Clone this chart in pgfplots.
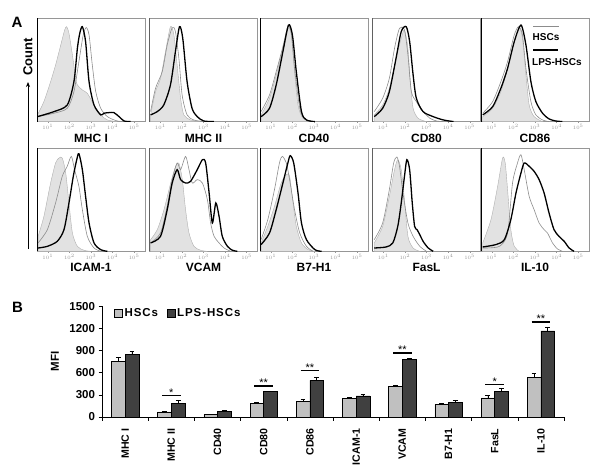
\documentclass[border=0pt]{standalone}
\usepackage{pgfplots}
\pgfplotsset{compat=1.18}
\usetikzlibrary{arrows.meta}
\usepackage{fontspec}
\setmainfont{Liberation Sans}
\newfontfamily\spaced[LetterSpace=8]{Liberation Sans}
\definecolor{isofill}{RGB}{226,226,226}
\definecolor{isoline}{RGB}{175,175,175}
\definecolor{hscline}{RGB}{140,140,140}
\definecolor{hscbar}{RGB}{192,192,192}
\definecolor{lpsbar}{RGB}{64,64,64}
\definecolor{frame}{RGB}{150,150,150}
\pgfplotsset{
  hist/.style={
    scale only axis, width=108pt, height=103.3pt, anchor=north west,
    xmin=0.5, xmax=5.5, ymin=0, ymax=100,
    ytick=\empty, xtick={1,2,3,4,5},
    xticklabels={$10^{1}$,$10^{2}$,$10^{3}$,$10^{4}$,$10^{5}$},
    tick align=outside, xtick pos=bottom,
    major tick length=1.5pt,
    every tick/.style={frame, line width=0.4pt},
    axis line style={frame, line width=0.6pt},
    xticklabel style={font=\fontsize{3.5}{3.5}\selectfont, text=frame, inner sep=1pt},
    xlabel style={font=\bfseries\fontsize{12}{12}\selectfont, at={(axis description cs:0.5,0)}, anchor=center, yshift=-16.5pt},
  },
  iso/.style={fill=isofill, draw=isoline, line width=0.4pt, smooth, tension=0.45},
  hsc/.style={draw=hscline, line width=0.6pt, smooth, tension=0.45},
  lps/.style={draw=black, line width=1.3pt, smooth, tension=0.45},
}
\newcommand{\leftedge}{\draw[black, line width=1.3pt] (rel axis cs:0,0) -- (rel axis cs:0,1);}
\begin{document}
\begin{tikzpicture}
\useasboundingbox (0pt,0pt) rectangle (601pt,-474pt);
% ---------------- Panel A ----------------
\node[font=\bfseries\fontsize{15}{15}\selectfont] at (17pt,-22pt) {A};
\node[rotate=90, font=\bfseries\fontsize{13}{13}\selectfont] at (28pt,-57pt) {Count};
\draw[-{Stealth[length=5pt,width=4pt]}, line width=0.8pt] (28pt,-249pt) -- (28pt,-82pt);

% MHC I
\begin{axis}[hist, at={(37pt,-18.3pt)}, xlabel={MHC I}]
\addplot[iso] coordinates {(0.52,6.5)(0.82,19.4)(1.13,38.7)(1.36,54.8)(1.60,74.2)(1.78,88.7)(1.87,91.9)(1.98,85.5)(2.14,64.5)(2.29,41.9)(2.37,35.5)(2.60,30.6)(2.83,27.4)(3.14,16.1)(3.45,6.5)(3.76,1.6)(4.22,0)} \closedcycle;
\addplot[hsc] coordinates {(0.52,4.8)(1.29,8.1)(1.90,12.9)(2.21,29)(2.44,58.1)(2.64,83.9)(2.78,91)(2.91,83.9)(3.06,54.8)(3.22,29)(3.45,12.9)(3.76,4.8)(4.22,0.6)(4.68,0)};
\addplot[lps] coordinates {(0.52,4.8)(1.29,9.7)(1.90,16.1)(2.21,38.7)(2.37,71)(2.48,85.5)(2.60,91.9)(2.75,77.4)(2.91,38.7)(3.14,16.1)(3.45,6.5)(3.60,8.1)(3.83,8.7)(4.06,8.7)(4.30,4.8)(4.53,0.6)(4.84,0)};
\leftedge
\end{axis}
% MHC II
\begin{axis}[hist, at={(149.5pt,-18.3pt)}, xlabel={MHC II}]
\addplot[iso] coordinates {(0.55,6.5)(0.78,29)(1.01,41.9)(1.24,67.7)(1.47,91.9)(1.63,83.9)(1.78,54.8)(1.94,22.6)(2.09,6.5)(2.40,1.6)(2.86,0)} \closedcycle;
\addplot[hsc] coordinates {(0.55,9.7)(0.78,32.3)(1.09,48.4)(1.32,74.2)(1.55,91)(1.70,87.1)(1.86,61.3)(2.01,25.8)(2.24,6.5)(2.55,1.6)(3.01,0)};
\addplot[lps] coordinates {(0.55,6.5)(0.86,9.7)(1.16,16.1)(1.47,35.5)(1.70,67.7)(1.89,91.9)(2.04,80.6)(2.24,38.7)(2.47,12.9)(2.71,4.8)(3.01,0.6)(3.48,0)};
\leftedge
\end{axis}
% CD40
\begin{axis}[hist, at={(260pt,-18.3pt)}, xlabel={CD40}]
\addplot[iso] coordinates {(0.55,6.5)(0.94,22.6)(1.25,45.2)(1.56,71)(1.79,90.3)(1.95,83.9)(2.10,48.4)(2.26,16.1)(2.49,3.2)(2.96,0)} \closedcycle;
\addplot[hsc] coordinates {(0.55,9.7)(0.94,25.8)(1.25,48.4)(1.56,72.6)(1.79,91.9)(1.95,85.5)(2.10,51.6)(2.34,12.9)(2.57,2.6)(2.96,0)};
\addplot[lps] coordinates {(0.55,4.8)(0.94,12.9)(1.25,35.5)(1.56,67.7)(1.82,93.5)(2.00,83.9)(2.18,48.4)(2.42,9.7)(2.65,1.6)(3.04,0)};
\leftedge
\end{axis}
% CD80
\begin{axis}[hist, at={(372.5pt,-18.3pt)}, xlabel={CD80}]
\addplot[iso] coordinates {(0.58,6.5)(0.97,16.1)(1.28,32.3)(1.59,61.3)(1.83,80.6)(1.98,88.7)(2.14,71)(2.25,38.7)(2.38,12.9)(2.61,3.2)(3.0,0)} \closedcycle;
\addplot[hsc] coordinates {(0.58,9.7)(0.97,22.6)(1.28,41.9)(1.52,71)(1.75,90.3)(1.98,88.7)(2.14,64.5)(2.30,29)(2.53,19.4)(2.77,11.3)(3.16,3.2)(3.47,0.6)(3.78,0)};
\addplot[lps] coordinates {(0.58,4.8)(0.97,12.9)(1.28,29)(1.59,61.3)(1.83,87.1)(2.06,91.9)(2.22,77.4)(2.38,45.2)(2.53,22.6)(2.84,9.7)(3.31,4.8)(3.78,1.6)(4.25,0)};
\leftedge
\end{axis}
% CD86
\begin{axis}[hist, at={(481pt,-18.3pt)}, xlabel={CD86}]
\addplot[iso] coordinates {(0.58,4.8)(1.04,12.9)(1.42,29)(1.73,51.6)(2.04,77.4)(2.27,90.3)(2.42,80.6)(2.58,45.2)(2.73,16.1)(2.96,4.8)(3.35,0)} \closedcycle;
\addplot[hsc] coordinates {(0.58,8.1)(1.04,19.4)(1.42,38.7)(1.73,58.1)(2.04,83.9)(2.24,91.9)(2.42,83.9)(2.58,51.6)(2.81,19.4)(3.04,6.5)(3.35,1.6)(3.65,0)};
\addplot[lps] coordinates {(0.58,6.5)(1.04,14.5)(1.42,32.3)(1.73,51.6)(2.04,77.4)(2.35,93.5)(2.58,74.2)(2.81,38.7)(3.04,19.4)(3.35,8.1)(3.65,2.6)(3.96,0.6)(4.27,0)};
\leftedge
\end{axis}
\draw[hscline, line width=0.8pt] (533pt,-26.7pt) -- (559pt,-26.7pt);
\node[anchor=west, inner sep=0pt, font=\bfseries\fontsize{10}{10}\selectfont] at (532.5pt,-37pt) {HSCs};
\draw[black, line width=1.3pt] (533pt,-50pt) -- (558pt,-50pt);
\node[anchor=west, inner sep=0pt, font=\bfseries\fontsize{10}{10}\selectfont] at (532pt,-62.5pt) {LPS-HSCs};

% ICAM-1
\begin{axis}[hist, at={(37pt,-148pt)}, xlabel={ICAM-1}]
\addplot[iso] coordinates {(0.55,14.5)(0.82,33.9)(1.13,66.1)(1.36,85.5)(1.52,90.3)(1.67,90.3)(1.83,75.8)(1.98,46.8)(2.14,17.7)(2.37,4.8)(2.68,1)(2.98,0)} \closedcycle;
\addplot[hsc] coordinates {(0.55,8.1)(0.98,21)(1.36,46.8)(1.67,72.6)(1.90,82.3)(2.09,91.9)(2.24,79)(2.44,62.9)(2.60,40.3)(2.83,14.5)(3.14,3.2)(3.45,0)};
\addplot[lps] coordinates {(0.55,3.2)(0.98,4.8)(1.44,9.7)(1.75,21)(1.98,46.8)(2.18,72.6)(2.34,88.7)(2.44,94.5)(2.60,79)(2.75,53.2)(2.91,27.4)(3.14,8.1)(3.45,1.6)(3.76,0)};
\leftedge
\end{axis}
% VCAM
\begin{axis}[hist, at={(149.5pt,-148pt)}, xlabel={VCAM}]
\addplot[iso] coordinates {(0.55,11.3)(0.86,21)(1.17,40.3)(1.48,66.1)(1.71,82.3)(1.86,85.5)(2.02,69.4)(2.17,40.3)(2.33,17.7)(2.56,4.8)(2.87,1)(3.18,0)} \closedcycle;
\addplot[hsc] coordinates {(0.55,8.1)(1.01,17.7)(1.32,43.5)(1.55,69.4)(1.78,85.5)(1.94,79)(2.17,91.9)(2.33,79)(2.48,66.1)(2.71,69.4)(2.95,66.1)(3.18,50)(3.33,27.4)(3.49,14.5)(3.72,8.1)(3.95,3.2)(4.26,0)};
\addplot[lps] coordinates {(0.55,8.1)(1.01,14.5)(1.32,40.3)(1.55,66.1)(1.78,79)(1.94,69.4)(2.17,66.1)(2.40,67.7)(2.71,79)(2.95,88.7)(3.10,85.5)(3.26,56.5)(3.41,27.4)(3.57,46.8)(3.72,33.9)(3.87,14.5)(4.11,4.8)(4.34,1)(4.57,0)};
\leftedge
\end{axis}
% B7-H1
\begin{axis}[hist, at={(260pt,-148pt)}, xlabel={B7-H1}]
\addplot[iso] coordinates {(0.55,8.1)(0.86,24.2)(1.17,43.5)(1.48,66.1)(1.72,74.2)(1.87,72.6)(2.03,46.8)(2.18,24.2)(2.42,8.1)(2.73,1.6)(3.04,0)} \closedcycle;
\addplot[hsc] coordinates {(0.55,11.3)(0.86,30.6)(1.17,59.7)(1.40,85.5)(1.53,91.9)(1.72,85.5)(1.87,69.4)(2.10,40.3)(2.34,17.7)(2.65,4.8)(2.96,0)};
\addplot[lps] coordinates {(0.55,6.5)(0.94,17.7)(1.25,40.3)(1.56,66.1)(1.79,85.5)(1.90,92.6)(2.06,85.5)(2.26,56.5)(2.42,27.4)(2.65,11.3)(3.04,1.6)(3.35,0)};
\leftedge
\end{axis}
% FasL
\begin{axis}[hist, at={(372.5pt,-148pt)}, xlabel={FasL}]
\addplot[iso] coordinates {(0.58,8.1)(0.97,24.2)(1.28,53.2)(1.52,79)(1.67,88.7)(1.83,79)(1.98,50)(2.14,14.5)(2.38,3.2)(2.69,0)} \closedcycle;
\addplot[hsc] coordinates {(0.58,11.3)(0.97,27.4)(1.28,59.7)(1.48,85.5)(1.63,91.3)(1.75,82.3)(1.91,56.5)(2.14,27.4)(2.38,14.5)(2.69,4.8)(3.0,0)};
\addplot[lps] coordinates {(0.58,3.2)(1.13,4.2)(1.44,8.1)(1.67,24.2)(1.83,46.8)(1.98,72.6)(2.09,88.7)(2.22,79)(2.34,46.8)(2.45,24.2)(2.56,21)(2.69,16.1)(2.84,9.7)(3.08,3.2)(3.31,0)};
\leftedge
\end{axis}
% IL-10
\begin{axis}[hist, at={(481pt,-148pt)}, xlabel={IL-10}]
\addplot[iso] coordinates {(0.58,8.1)(0.96,30.6)(1.27,62.9)(1.50,90.3)(1.62,85.5)(1.73,59.7)(1.88,21)(2.04,4.8)(2.27,0)} \closedcycle;
\addplot[hsc] coordinates {(0.58,3.2)(1.35,4.8)(1.73,17.7)(1.96,66.1)(2.19,85.5)(2.35,93.5)(2.50,79)(2.73,53.2)(2.96,40.3)(3.19,27.4)(3.42,21)(3.58,17.7)(3.81,8.1)(4.04,2.3)(4.27,0)};
\addplot[lps] coordinates {(0.58,4.2)(1.19,6.5)(1.58,11.3)(1.88,30.6)(2.12,56.5)(2.35,75.8)(2.50,85.5)(2.73,82.3)(2.96,77.4)(3.19,69.4)(3.42,56.5)(3.65,37.1)(3.88,21)(4.11,14.5)(4.35,9.7)(4.58,3.2)(4.81,0)};
\leftedge
\end{axis}

% ---------------- Panel B ----------------
\node[font=\bfseries\fontsize{15}{15}\selectfont] at (17.5pt,-307.5pt) {B};
\begin{axis}[
  at={(102pt,-417pt)}, anchor=south west, scale only axis,
  width=462pt, height=110.7pt,
  xmin=-0.5, xmax=9.5, ymin=0, ymax=1500,
  axis lines=left, axis line style={black, line width=0.6pt, -},
  ytick={0,300,600,900,1200,1500},
  xtick={-0.5,0.5,...,9.5}, xticklabels={},
  extra x ticks={0,1,2,3,4,5,6,7,8,9},
  extra x tick labels={MHC I,MHC II,CD40,CD80,CD86,ICAM-1,VCAM,B7-H1,FasL,IL-10},
  extra x tick style={major tick length=0pt},
  xticklabel style={font=\bfseries\fontsize{10.6}{11}\selectfont, yshift=-8pt, rotate=90, anchor=east},
  tick align=outside, major tick length=3.5pt,
  every tick/.style={black, line width=0.6pt},
  /pgf/number format/assume math mode=true,
  /pgf/number format/1000 sep={},
  yticklabel style={font=\bfseries\fontsize{11.5}{12}\selectfont},
  ylabel={MFI},
  ylabel style={font=\bfseries\fontsize{11.5}{12}\selectfont, at={(axis description cs:-0.1017,0.5)}, anchor=center},
  ybar=0pt, bar width=13.7pt,
  legend style={at={(axis description cs:0.0266,0.937)}, anchor=west, draw=none, fill=none, inner sep=0pt,
    font=\spaced\bfseries\fontsize{11.5}{12}\selectfont, legend columns=2,
    /tikz/every even column/.append style={column sep=7pt}},
  legend image code/.code={\draw[#1] (0pt,-3.8pt) rectangle (7.6pt,3.8pt);},
  error bars/y dir=plus, error bars/y explicit,
  error bars/error bar style={black, line width=0.6pt},
  error bars/error mark options={rotate=90, mark size=2.4pt, line width=0.6pt, black},
]
\addplot[fill=hscbar, draw=black, line width=0.5pt] coordinates {
(0,754) +- (0,50)
(1,68) +- (0,10)
(2,32) +- (0,8)
(3,181) +- (0,12)
(4,212) +- (0,27)
(5,248) +- (0,22)
(6,416) +- (0,18)
(7,167) +- (0,13)
(8,258) +- (0,36)
(9,542) +- (0,45)
};
\addplot[fill=lpsbar, draw=black, line width=0.5pt] coordinates {
(0,845) +- (0,45)
(1,181) +- (0,40)
(2,77) +- (0,10)
(3,343) +- (0,12)
(4,497) +- (0,45)
(5,285) +- (0,22)
(6,782) +- (0,13)
(7,199) +- (0,27)
(8,352) +- (0,36)
(9,1166) +- (0,54)
};
\legend{HSCs,LPS-HSCs}
\end{axis}
% significance markers
\begin{axis}[
  at={(102pt,-417pt)}, anchor=south west, scale only axis,
  width=462pt, height=110.7pt,
  xmin=-0.5, xmax=9.5, ymin=0, ymax=1500, hide axis, clip=false,
]
\addplot[black, line width=1.1pt] coordinates {(0.8,289) (1.2,289)};
\addplot[black, line width=1.1pt] coordinates {(2.8,420) (3.2,420)};
\addplot[black, line width=1.1pt] coordinates {(3.8,632) (4.2,632)};
\addplot[black, line width=1.1pt] coordinates {(5.8,867) (6.2,867)};
\addplot[black, line width=1.1pt] coordinates {(7.8,443) (8.2,443)};
\addplot[black, line width=1.1pt] coordinates {(8.8,1288) (9.2,1288)};
\node[anchor=south, inner sep=0pt, yshift=-1pt, font=\fontsize{11}{11}\selectfont] at (axis cs:1,289) {*};
\node[anchor=south, inner sep=0pt, yshift=-1pt, font=\fontsize{11}{11}\selectfont] at (axis cs:3,420) {**};
\node[anchor=south, inner sep=0pt, yshift=-1pt, font=\fontsize{11}{11}\selectfont] at (axis cs:4,632) {**};
\node[anchor=south, inner sep=0pt, yshift=-1pt, font=\fontsize{11}{11}\selectfont] at (axis cs:6,867) {**};
\node[anchor=south, inner sep=0pt, yshift=-1pt, font=\fontsize{11}{11}\selectfont] at (axis cs:8,443) {*};
\node[anchor=south, inner sep=0pt, yshift=-1pt, font=\fontsize{11}{11}\selectfont] at (axis cs:9,1288) {**};
\end{axis}
\end{tikzpicture}
\end{document}
